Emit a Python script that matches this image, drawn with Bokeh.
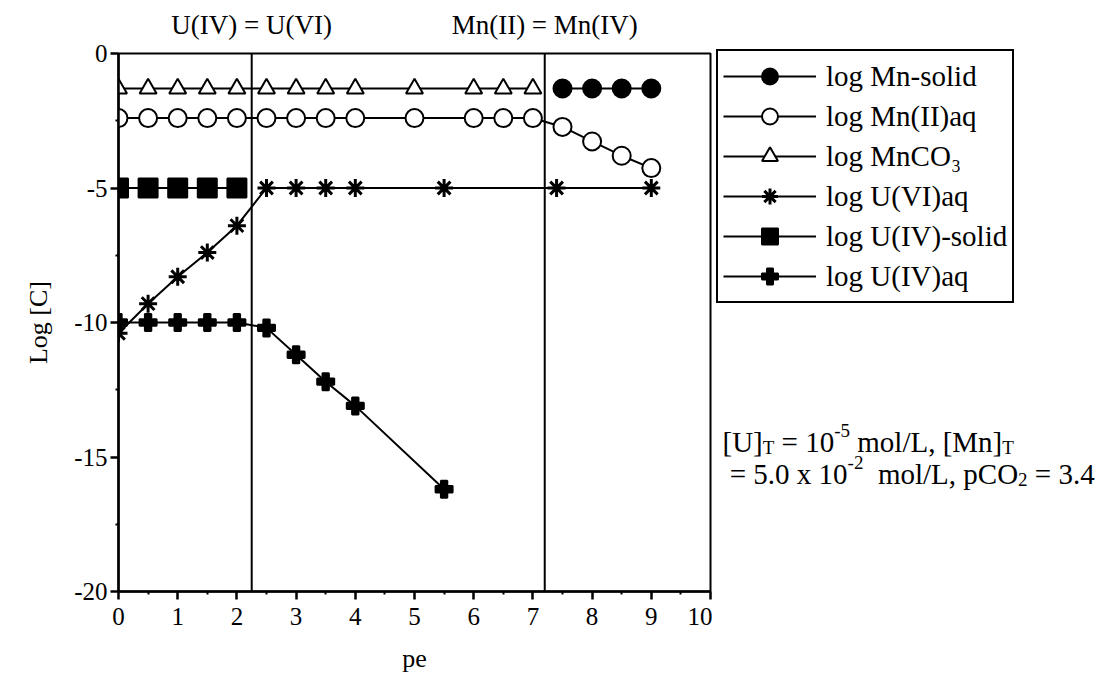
from bokeh.plotting import figure
from bokeh.models import Span, Label, Legend, LegendItem, FixedTicker, Range1d
from bokeh.layouts import row, column
from bokeh.embed import file_html
from bokeh.resources import INLINE

# ---------------- data ----------------
pe_mn_solid = [7.5, 8.0, 8.5, 9.0]
logc_mn_solid = [-1.3, -1.3, -1.3, -1.3]

pe_mn2 = [0, 0.5, 1, 1.5, 2, 2.5, 3, 3.5, 4, 5, 6, 6.5, 7, 7.5, 8, 8.5, 9]
logc_mn2 = [-2.4, -2.4, -2.4, -2.4, -2.4, -2.4, -2.4, -2.4, -2.4, -2.4, -2.4,
            -2.4, -2.4, -2.73, -3.27, -3.8, -4.26]

pe_mnco3 = [0, 0.5, 1, 1.5, 2, 2.5, 3, 3.5, 4, 5, 6, 6.5, 7]
logc_mnco3 = [-1.3, -1.3, -1.3, -1.3, -1.3, -1.3, -1.3, -1.3, -1.3, -1.3, -1.3,
              -1.3, -1.3]

pe_u6 = [0, 0.5, 1, 1.5, 2, 2.5, 3, 3.5, 4, 5.5, 7.4, 9]
logc_u6 = [-10.4, -9.3, -8.3, -7.4, -6.4, -5.0, -5.0, -5.0, -5.0, -5.0, -5.0, -5.0]

pe_u4s = [0, 0.5, 1, 1.5, 2]
logc_u4s = [-5.0, -5.0, -5.0, -5.0, -5.0]

pe_u4aq = [0, 0.5, 1, 1.5, 2, 2.5, 3, 3.5, 4, 5.5]
logc_u4aq = [-10.0, -10.0, -10.0, -10.0, -10.0, -10.2, -11.2, -12.2, -13.1, -16.2]

boundary_pe = [2.25, 7.2]
boundary_labels = ["U(IV) = U(VI)", "Mn(II) = Mn(IV)"]

x_ticks = [0, 1, 2, 3, 4, 5, 6, 7, 8, 9, 10]
x_minor = [0.5, 1.5, 2.5, 3.5, 4.5, 5.5, 6.5, 7.5, 8.5, 9.5]
y_ticks = [-20, -15, -10, -5, 0]
y_minor = [-17.5, -12.5, -7.5, -2.5]

FONT = "Liberation Serif"

xr = Range1d(0, 10)

# ---------------- top strip with the boundary labels ----------------
TOP_H = 40
top = figure(frame_width=592, frame_height=TOP_H, x_range=xr,
             y_range=Range1d(TOP_H, 0),
             min_border_left=118, min_border_right=2, min_border_top=0,
             min_border_bottom=0, x_axis_location=None, y_axis_location=None,
             output_backend="svg", toolbar_location=None)
top.xgrid.visible = False
top.ygrid.visible = False
top.outline_line_color = None
for xv, txt in zip(boundary_pe, boundary_labels):
    top.add_layout(Label(x=xv, y=24, text=txt, text_font=FONT,
                         text_font_size="27px", text_align="center",
                         text_baseline="middle", text_color="black"))

# ---------------- main plot ----------------
p = figure(frame_width=592, frame_height=538, x_range=xr, y_range=Range1d(-20, 0),
           output_backend="svg", toolbar_location=None,
           min_border_left=118, min_border_top=53 - TOP_H,
           min_border_bottom=89, min_border_right=2,
           background_fill_color="white", border_fill_color="white")
p.xgrid.visible = False
p.ygrid.visible = False
p.outline_line_color = "black"
p.outline_line_width = 2

for ax in (p.xaxis[0], p.yaxis[0]):
    ax.axis_line_width = 2.5
    ax.axis_line_color = "black"
    ax.major_tick_line_width = 2.5
    ax.major_tick_line_color = "black"
    ax.major_tick_out = 8
    ax.major_tick_in = 0
    ax.minor_tick_line_width = 2
    ax.minor_tick_line_color = "black"
    ax.minor_tick_out = 3
    ax.minor_tick_in = 0
    ax.major_label_text_font = FONT
    ax.major_label_text_font_size = "25px"
    ax.major_label_text_color = "black"
    ax.axis_label_text_font = FONT
    ax.axis_label_text_font_size = "26px"
    ax.axis_label_text_font_style = "normal"
    ax.axis_label_text_color = "black"

p.xaxis.ticker = FixedTicker(ticks=x_ticks, minor_ticks=x_minor)
p.yaxis.ticker = FixedTicker(ticks=y_ticks, minor_ticks=y_minor)
p.yaxis.major_label_overrides = {t: str(t) for t in y_ticks}
p.xaxis.major_label_overrides = {t: str(t) for t in x_ticks}
p.xaxis.axis_label = "pe"
p.yaxis.axis_label = "Log [C]"
p.xaxis.major_label_standoff = 8
p.yaxis.major_label_standoff = 3
p.xaxis.axis_label_standoff = 16
p.yaxis.axis_label_standoff = 18

for xv in boundary_pe:
    p.add_layout(Span(location=xv, dimension="height", line_color="black",
                      line_width=2, level="underlay"))

LW = 2
series = [
    ("log Mn-solid", pe_mn_solid, logc_mn_solid, "circle", 18, "black"),
    ("log Mn(II)aq", pe_mn2, logc_mn2, "circle", 18, "white"),
    ("log MnCO\u2083", pe_mnco3, logc_mnco3, "triangle", 17, "white"),
    ("log U(VI)aq", pe_u6, logc_u6, "asterisk", 18, "black"),
    ("log U(IV)-solid", pe_u4s, logc_u4s, "square", 19, "black"),
    ("log U(IV)aq", pe_u4aq, logc_u4aq, "plus", 17, "black"),
]

for name, xs, ys, mk, sz, fc in series:
    p.line(xs, ys, line_color="black", line_width=LW)
for name, xs, ys, mk, sz, fc in series:
    lw = 3 if mk == "asterisk" else 2
    p.scatter(xs, ys, marker=mk, size=sz, fill_color=fc,
              line_color="black", line_width=lw)

# ---------------- side panel: legend + conditions text ----------------
X0 = 712            # page x of the side panel's left edge
SW, SH = 388, 680
side = figure(frame_width=SW, frame_height=SH, x_range=Range1d(X0, X0 + SW),
              y_range=Range1d(SH, 0), min_border=0,
              x_axis_location=None, y_axis_location=None,
              output_backend="svg", toolbar_location=None)
side.xgrid.visible = False
side.ygrid.visible = False
side.outline_line_color = None

items = []
for name, xs, ys, mk, sz, fc in series:
    # legend-sample renderers: same data, lying far outside this panel's ranges
    lw = 3 if mk == "asterisk" else 2
    lr = side.line(xs, ys, line_color="black", line_width=LW)
    sr = side.scatter(xs, ys, marker=mk, size=sz, fill_color=fc,
                      line_color="black", line_width=lw)
    items.append(LegendItem(label=name, renderers=[lr, sr]))

legend = Legend(items=items, location=(716 - X0, SH - 303), margin=0, padding=5,
                glyph_width=93, glyph_height=40, label_height=39,
                label_standoff=10, spacing=0,
                label_text_font=FONT, label_text_font_size="29px",
                label_text_color="black",
                border_line_color="black", border_line_width=2,
                border_line_alpha=1.0,
                background_fill_color="white", background_fill_alpha=1)
side.add_layout(legend)

# Times-metric advance widths (em) for placing the rich-text annotation
W = {" ": .25, "[": .333, "]": .333, "U": .722, "T": .611, "=": .564,
     "1": .5, "0": .5, "-": .333, "5": .5, "m": .778, "o": .5, "l": .278,
     "/": .278, "L": .611, ",": .25, "M": .889, "n": .5, ".": .25, "x": .5,
     "p": .5, "C": .667, "O": .722, "2": .5, "3": .5, "4": .5}


def tw(s, size):
    return sum(W.get(c, .5) for c in s) * size


def rich(x0, base, parts, big=29, small=19):
    x = x0
    for txt, kind in parts:
        size = big if kind == "n" else small
        dy = 0 if kind == "n" else (-11 if kind == "sup" else 6)
        core = txt.lstrip(" ")
        lead = tw(txt[:len(txt) - len(core)], size)
        core = core.rstrip(" ")
        side.add_layout(Label(x=x + lead, y=base + dy, text=core,
                              text_font=FONT, text_font_size=f"{size}px",
                              text_align="left", text_baseline="alphabetic",
                              text_color="black"))
        x += tw(txt, size)


rich(722, 441, [("[U]", "n"), ("T", "sub"), (" = 10", "n"), ("-5", "sup"),
                (" mol/L, [Mn]", "n"), ("T", "sub")])
rich(722, 473, [(" = 5.0 x 10", "n"), ("-2", "sup"), ("  mol/L, pCO", "n"),
                ("2", "sub"), (" = 3.4", "n")])

layout = row(column(top, p), side)
open("out.html", "w").write(file_html(layout, INLINE))
